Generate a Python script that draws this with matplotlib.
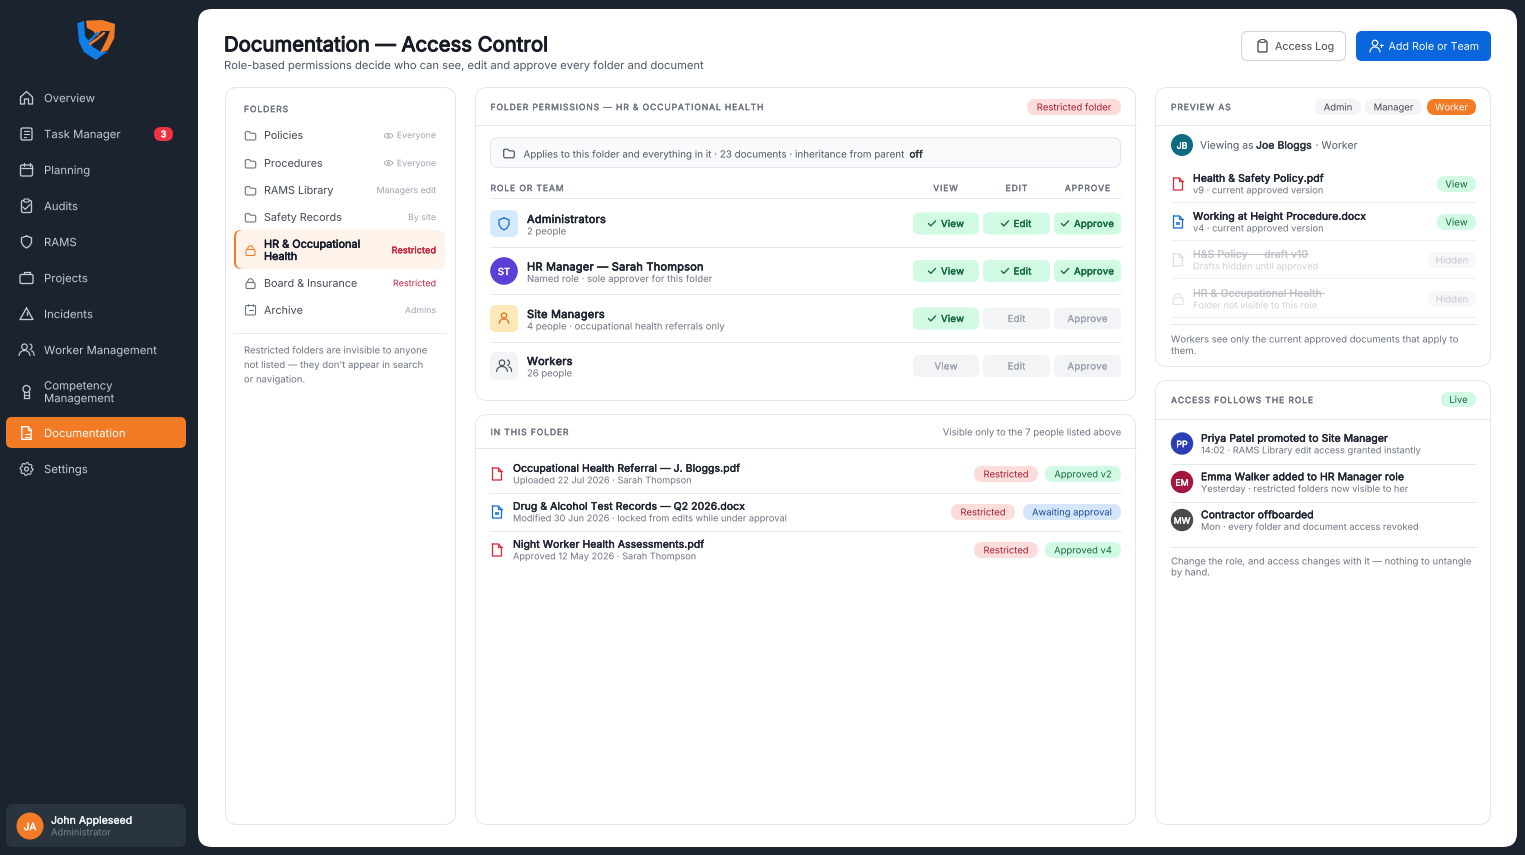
import numpy as np
import matplotlib
matplotlib.use("Agg")
import matplotlib.pyplot as plt
from matplotlib.text import Text
from matplotlib.patches import FancyBboxPatch, Circle, Polygon, Rectangle
from matplotlib.patheffects import PathEffectRenderer
import matplotlib.patheffects as pe

plt.rcParams['font.family'] = ['Inter', 'DejaVu Sans']
plt.rcParams['text.hinting'] = 'none'

# ---------- content ----------
nav_labels = ["Overview", "Task Manager", "Planning", "Audits", "RAMS", "Projects", "Incidents",
              "Worker Management", "Competency\nManagement", "Documentation", "Settings"]
folder_names = ["Policies", "Procedures", "RAMS Library", "Safety Records", "HR & Occupational\nHealth",
                "Board & Insurance", "Archive"]
folder_access = ["Everyone", "Everyone", "Managers edit", "By site", "Restricted", "Restricted", "Admins"]
role_names = ["Administrators", "HR Manager — Sarah Thompson", "Site Managers", "Workers"]
role_subs = ["2 people", "Named role · sole approver for this folder",
             "4 people · occupational health referrals only", "26 people"]
perm_labels = ["View", "Edit", "Approve"]
perm_grants = [[1, 1, 1], [1, 1, 1], [1, 0, 0], [0, 0, 0]]
doc_names = ["Occupational Health Referral — J. Bloggs.pdf", "Drug & Alcohol Test Records — Q2 2026.docx",
             "Night Worker Health Assessments.pdf"]
doc_subs = ["Uploaded 22 Jul 2026 · Sarah Thompson", "Modified 30 Jun 2026 · locked from edits while under approval",
            "Approved 12 May 2026 · Sarah Thompson"]
doc_status = ["Approved v2", "Awaiting approval", "Approved v4"]
preview_names = ["Health & Safety Policy.pdf", "Working at Height Procedure.docx", "H&S Policy — draft v10",
                 "HR & Occupational Health"]
preview_subs = ["v9 · current approved version", "v4 · current approved version", "Drafts hidden until approved",
                "Folder not visible to this role"]
preview_tags = ["View", "View", "Hidden", "Hidden"]
feed_initials = ["PP", "EM", "MW"]
feed_names = ["Priya Patel promoted to Site Manager", "Emma Walker added to HR Manager role", "Contractor offboarded"]
feed_subs = ["14:02 · RAMS Library edit access granted instantly", "Yesterday · restricted folders now visible to her",
             "Mon · every folder and document access revoked"]

# ---------- palette ----------
BG = "#1a232e"; ORANGE = "#f47b25"; INK = "#1c2230"; MID = "#4b5563"; GREY = "#6b7280"; PALE = "#9ca3af"
LINE = "#e5e7eb"; GREEN_BG = "#d1fae5"; GREEN_TX = "#11643f"; OFF_BG = "#f3f4f6"; RED_BG = "#fddcdc"; RED_TX = "#a51c30"
BLUE = "#0a66dc"; NAVTX = "#c5ccd6"

fig = plt.figure(figsize=(15.25, 8.55), dpi=100, facecolor=BG)
ax = fig.add_axes([0, 0, 1, 1])
ax.set_xlim(0, 1525); ax.set_ylim(855, 0); ax.axis("off"); ax.autoscale(False)
PX = 72 / 100


class TrackedText(Text):
    """One text object drawn with CSS-like letter spacing (in pixels)."""
    track = 0.0

    def _adv(self, renderer, s):
        fp = self.get_fontproperties()
        bar = renderer.get_text_width_height_descent("|", fp, False)[0]
        return renderer.get_text_width_height_descent(s + "|", fp, False)[0] - bar

    def get_window_extent(self, renderer=None, dpi=None):
        bb = super().get_window_extent(renderer, dpi)
        extra = self.track * (len(self.get_text()) - 1)
        d0 = {"left": 0, "center": extra / 2, "right": extra}[self.get_ha()]
        return matplotlib.transforms.Bbox.from_extents(bb.x0 - d0, bb.y0, bb.x1 + extra - d0, bb.y1)

    def draw(self, renderer):
        if not self.get_visible():
            return
        s = self.get_text()
        total = self._adv(renderer, s) + self.track * (len(s) - 1)
        x, y = self.get_transform().transform(self.get_unitless_position())
        x -= {"left": 0, "center": total / 2, "right": total}[self.get_ha()]
        H = renderer.get_canvas_width_height()[1]
        gc = renderer.new_gc()
        gc.set_foreground(self.get_color())
        gc.set_antialiased(True)
        gc.set_snap(False)
        r = PathEffectRenderer(self.get_path_effects(), renderer)
        fp = self.get_fontproperties()
        for i, ch in enumerate(s):
            if ch != " ":
                r.draw_text(gc, x + self._adv(renderer, s[:i]) + self.track * i, H - y, ch, fp, 0, False)
        gc.restore()
        self.stale = False


def box(x0, y0, x1, y1, r=8, fc="white", ec="none", lw=1.0, z=1):
    ax.add_patch(FancyBboxPatch((x0, y0), x1 - x0, y1 - y0, boxstyle=f"round,pad=0,rounding_size={r}",
                                fc=fc, ec=ec, lw=lw * PX, zorder=z))


def T(x, y, s, px=11, c=INK, ha="left", bold=0.0, z=5, ls=None, track=0.0):
    kw = dict(fontsize=px * PX, color=c, ha=ha, va="baseline", zorder=z, linespacing=ls if ls else 1.2)
    if track:
        t = TrackedText(x, y + 0.36 * px, s, **kw)
        t.track = track
        t.set_transform(ax.transData)
        ax._add_text(t)
    else:
        t = ax.text(x, y + 0.36 * px, s, **kw)
    t.set_path_effects([pe.withStroke(linewidth=bold, foreground=c)] if bold else [pe.Normal()])
    return t


def CAPS(x, y, s, ha="left"):
    return T(x, y, s, 8.6, GREY, ha, bold=.2, track=.86)


def hline(y, x0, x1, c=LINE, lw=1.0, z=2):
    ax.plot([x0, x1], [y, y], color=c, lw=lw * PX, zorder=z, solid_capstyle="butt")


def L(pts, c, lw=1.3, z=6, close=False):
    p = np.array(pts, float)
    if close:
        p = np.vstack([p, p[0]])
    ax.plot(p[:, 0], p[:, 1], color=c, lw=lw * PX, zorder=z, solid_capstyle="round", solid_joinstyle="round")


def arc(cx, cy, rx, ry, a0, a1, c, lw=1.3, z=6):
    a = np.radians(np.linspace(a0, a1, 24))
    L(np.c_[cx + rx * np.cos(a), cy + ry * np.sin(a)], c, lw, z)


def circ(cx, cy, r, c, lw=1.3, fc="none", z=6):
    ax.add_patch(Circle((cx, cy), r, fc=fc, ec=c, lw=lw * PX, zorder=z))


def ic_folder(x, y, c, s=1.0, lw=1.1):
    w, h = 5.2 * s, 4.2 * s
    L([(x - w, y - h + 1), (x - w + 1, y - h), (x - 1.2 * s, y - h), (x + .2 * s, y - h + 1.6 * s), (x + w - 1, y - h + 1.6 * s),
       (x + w, y - h + 2.6 * s), (x + w, y + h - 1), (x + w - 1, y + h), (x - w + 1, y + h), (x - w, y + h - 1)], c, lw, close=True)


def ic_lock(x, y, c, s=1.0, lw=1.1):
    box(x - 4.5 * s, y - 1 * s, x + 4.5 * s, y + 5 * s, r=1.2, fc="none", ec=c, lw=lw, z=6)
    arc(x, y - 1.5 * s, 2.8 * s, 3.3 * s, 180, 360, c, lw)


def ic_doc(x, y, c, s=1.0, lw=1.3, lines=False):
    L([(x - 4.5 * s, y - 6 * s), (x + 1.5 * s, y - 6 * s), (x + 4.5 * s, y - 2.6 * s), (x + 4.5 * s, y + 6 * s), (x - 4.5 * s, y + 6 * s)], c, lw, close=True)
    L([(x + 1.2 * s, y - 6 * s), (x + 1.2 * s, y - 2.6 * s), (x + 4.5 * s, y - 2.6 * s)], c, lw)
    if lines:
        ax.add_patch(Rectangle((x - 2 * s, y + .2 * s), 4 * s, 3 * s, fc=c, ec="none", alpha=.8, zorder=6))


def ic_eye(x, y, c):
    a = np.radians(np.linspace(0, 360, 30))
    L(np.c_[x + 4.2 * np.cos(a), y + 2.4 * np.sin(a)], c, .8)
    circ(x, y, 1.1, c, .8)


def ic_shield(x, y, c, s=1.0, lw=1.3):
    L([(x, y - 6 * s), (x + 5 * s, y - 4.2 * s), (x + 5 * s, y + .5 * s), (x + 3 * s, y + 4 * s), (x, y + 6 * s),
       (x - 3 * s, y + 4 * s), (x - 5 * s, y + .5 * s), (x - 5 * s, y - 4.2 * s)], c, lw, close=True)


def ic_user(x, y, c, lw=1.2):
    circ(x, y - 3, 2.6, c, lw)
    arc(x, y + 5, 4.8, 4.6, 180, 360, c, lw)


def ic_users(x, y, c, lw=1.2):
    circ(x - 2, y - 3.2, 2.8, c, lw)
    arc(x - 2, y + 5.5, 5.4, 5, 180, 360, c, lw)
    arc(x + 3, y - 3.2, 2.4, 2.8, -80, 80, c, lw)
    arc(x + 5, y + 5.5, 2.6, 4.5, 270, 360, c, lw)


def ic_check(x, y, c, lw=1.5):
    L([(x - 3.6, y), (x - 1.2, y + 2.4), (x + 3.6, y - 2.6)], c, lw)


# ---------- frame ----------
box(198, 9, 1517, 847, r=14, fc="white", z=0.5)

# ---------- logo ----------
ax.add_patch(Polygon([(77.3, 23.5), (84, 20.7), (85, 36), (93, 47), (101, 52), (108, 51), (96, 60), (84, 52), (79, 42)], fc="#0f7fe8", ec="none", zorder=2))
ax.add_patch(Polygon([(86, 20.7), (102, 20), (115, 24), (114.3, 38), (108, 50), (100, 52.7), (106, 41), (110, 31), (101, 31), (97, 36), (93, 31), (87, 28)], fc=ORANGE, ec="none", zorder=2))
L([(85, 45), (93, 38), (97, 33)], "#0f7fe8", 2.4)
L([(90, 44), (97, 39), (104, 33)], ORANGE, 2.4)

# ---------- sidebar ----------
nav_y = [98, 134, 170, 206, 242, 278, 314, 350, 398, 433, 469]
box(6, 417, 186, 448, r=6, fc=ORANGE)
for lab, y in zip(nav_labels, nav_y):
    T(44, y, lab, 11.35, "white" if lab == "Documentation" else NAVTX, ls=1.2)
c = NAVTX
x = 26.5
# home
y = 98; L([(x - 6, y - 1), (x, y - 6.5), (x + 6, y - 1), (x + 6, y + 6), (x + 2, y + 6), (x + 2, y + 1), (x - 2, y + 1), (x - 2, y + 6), (x - 6, y + 6)], c, close=True)
# task
y = 134; box(x - 5.5, y - 6, x + 5.5, y + 6, r=1.5, fc="none", ec=c, lw=1.3, z=6)
for dy, w in [(-3, 3), (0, 3), (3, 1.5)]:
    L([(x - 2.5, y + dy), (x - 2.5 + w * 1.6, y + dy)], c, 1.1)
# calendar
y = 170; box(x - 6, y - 5, x + 6, y + 6, r=1.5, fc="none", ec=c, lw=1.3, z=6)
hline(y - 1.5, x - 6, x + 6, c, 1.2, 6); L([(x - 3, y - 7), (x - 3, y - 4)], c); L([(x + 3, y - 7), (x + 3, y - 4)], c)
# clipboard
y = 206; box(x - 5, y - 5.5, x + 5, y + 6.5, r=1.5, fc="none", ec=c, lw=1.3, z=6)
box(x - 2.5, y - 7, x + 2.5, y - 4, r=.8, fc=BG, ec=c, lw=1.1, z=7); ic_check(x, y + 1, c, 1.2)
ic_shield(x, 242, c)
# briefcase
y = 278; box(x - 6.5, y - 3.5, x + 6.5, y + 5.5, r=1.5, fc="none", ec=c, lw=1.3, z=6)
L([(x - 3, y - 3.5), (x - 3, y - 6), (x + 3, y - 6), (x + 3, y - 3.5)], c)
# warning
y = 314; L([(x, y - 6), (x + 6.5, y + 5.5), (x - 6.5, y + 5.5)], c, close=True)
L([(x, y - 1.5), (x, y + 1.5)], c, 1.2); L([(x, y + 3.6), (x, y + 3.7)], c, 1.3)
ic_users(x, 350, c)
# medal
y = 391.5; circ(x, y - 2.5, 3.5, c); L([(x - 2.5, y + .5), (x - 2.5, y + 6.5), (x + 2.5, y + 6.5), (x + 2.5, y + .5)], c); L([(x - 2.5, y + 3.5), (x + 2.5, y + 3.5)], c, 1)
# documentation
ic_doc(x, 433, "white", 1.05, 1.4)
L([(x - 2, 434), (x + 2, 434)], "white", 1.1); L([(x - 2, 437), (x + 2, 437)], "white", 1.1)
# gear
y = 469; circ(x, y, 2, c, 1.2)
ang = np.radians(np.arange(0, 360, 15))
rad = np.where(np.arange(24) % 3 == 2, 4.9, 6.4)
L(np.c_[x + rad * np.cos(ang), y + rad * np.sin(ang)], c, 1.1, close=True)

box(154, 127, 173, 141, r=7, fc="#ef3340", z=3)
T(163.5, 134, "3", 9, "white", "center", bold=.3)

box(6, 804, 186, 847, r=7, fc="#2a343f")
ax.add_patch(Circle((30, 826), 13.5, fc=ORANGE, ec="none", zorder=3))
T(30, 826.5, "JA", 10, "white", "center", bold=.3)
T(51, 820, "John Appleseed", 10.5, "#f2f4f6", bold=.25, track=.05)
T(51, 832, "Administrator", 9.4, "#7d8793")

# ---------- header ----------
T(224, 44, "Documentation — Access Control", 20.3, "#161b26", bold=.75)
T(224, 65, "Role-based permissions decide who can see, edit and approve every folder and document", 11.2, MID)
box(1241.5, 31.5, 1345.5, 60.5, r=6, fc="white", ec="#cfd2d6", lw=1)
box(1258, 41, 1267, 52, r=1.2, fc="none", ec="#3f4650", lw=1.3, z=6); box(1260, 39.6, 1265, 42.4, r=.6, fc="white", ec="#3f4650", lw=1, z=7)
T(1275, 46, "Access Log", 10.7, "#3f4650")
box(1356, 31, 1491, 61, r=6, fc=BLUE)
circ(1375, 43, 2.8, "white", 1.2); arc(1375, 52, 5, 5, 180, 360, "white", 1.2)
L([(1379.5, 45.5), (1382.5, 45.5)], "white", 1.1); L([(1381, 44), (1381, 47)], "white", 1.1)
T(1388.5, 46, "Add Role or Team", 10.7, "white")

# ---------- folders card ----------
box(225.5, 87.5, 455.5, 824.5, r=12, ec=LINE)
CAPS(244, 109, "FOLDERS")
folder_y = [135, 163, 190, 217, 250, 283, 310]
box(234, 230, 445, 269, r=7, fc="#fef3ea", z=2)
box(234, 230, 250, 269, r=7, fc=ORANGE, z=2.1); box(236, 230, 252, 269, r=7, fc="#fef3ea", z=2.2)
for i, (n, acc, y) in enumerate(zip(folder_names, folder_access, folder_y)):
    sel = i == 4
    if sel:
        T(264, y + 6, n, 10.9, "#111827", bold=.35, ls=1.22)
    else:
        T(264, y, n, 10.75, "#3f4650")
    T(436, y, acc, 9.0 if acc == "Restricted" else 8.8, "#c81e3a" if acc == "Restricted" else PALE, "right", bold=.25 if sel else 0, track=.15 if sel else 0)
    ic = ORANGE if sel else "#6b7280"
    if i < 4:
        ic_folder(250.5, y + .8, ic)
    elif i < 6:
        ic_lock(250.5, y + .5, ic)
    else:
        box(245.5, y - 4.5, 255.5, y + 5, r=1, fc="none", ec=ic, lw=1.1, z=6)
        L([(248, y - 6), (248, y - 4)], ic, 1); L([(253, y - 6), (253, y - 4)], ic, 1); L([(248.5, y), (252.5, y)], ic, 1)
ic_eye(388.5, 135.8, PALE); ic_eye(388.5, 163, PALE)
hline(333.5, 234, 445)
for y, s in zip([350, 364.5, 379], ["Restricted folders are invisible to anyone", "not listed — they don't appear in search", "or navigation."]):
    T(244, y, s, 9.5, GREY)

# ---------- permissions card ----------
box(475.5, 87.5, 1135.5, 400.5, r=12, ec=LINE)
CAPS(490.5, 107, "FOLDER PERMISSIONS — HR & OCCUPATIONAL HEALTH")
hline(125.5, 475, 1136)
box(1027, 99, 1121, 115, r=8, fc=RED_BG); T(1074, 107, "Restricted folder", 9.5, RED_TX, "center")
box(490.5, 137.5, 1120.5, 167.5, r=8, fc="#f8fafb", ec=LINE)
ic_folder(509, 153.5, "#4b5563", 1.02, 1.2)
T(523.5, 154, "Applies to this folder and everything in it · 23 documents · inheritance from parent", 9.85, MID)
T(909.5, 154, "off", 9.85, "#2f3742", bold=.3)
CAPS(490.5, 188, "ROLE OR TEAM")
for xc, s in zip([945.5, 1016.5, 1087.5], ["VIEW", "EDIT", "APPROVE"]):
    CAPS(xc, 188, s, "center")
hline(198.5, 490, 1121)
for y in [247.5, 294.5, 342.5]:
    hline(y, 490, 1121)
row_y = [223.5, 271, 318.5, 366]
name_y = [219, 266.5, 314, 361]
btn_x = [(913, 979), (983, 1050), (1054, 1121)]
label_shift = {"View": 6.5, "Edit": 6, "Approve": 6.5}
check_shift = {"View": -14, "Edit": -11.5, "Approve": -22.5}
for i, y in enumerate(row_y):
    T(527, name_y[i], role_names[i], 11, INK, bold=.4, track=.25)
    T(527, name_y[i] + 12, role_subs[i], 9.5, GREY)
    for j, lab in enumerate(perm_labels):
        x0, x1 = btn_x[j]
        on = perm_grants[i][j]
        box(x0, y - 11, x1, y + 11, r=6, fc=GREEN_BG if on else OFF_BG)
        xc = (x0 + x1) / 2
        if on:
            T(xc + label_shift[lab], y, lab, 9.6, GREEN_TX, "center", bold=.25, track=.2)
            ic_check(xc + check_shift[lab], y, GREEN_TX, 1.3)
        else:
            T(xc, y, lab, 9.6, PALE, "center", bold=.15, track=.2)
box(490, 210, 518, 237, r=6, fc="#d6e8fb", z=2); ic_shield(504, 224, "#1a6fd0", 1.0, 1.3)
ax.add_patch(Circle((504, 271), 13.8, fc="#5b3fd6", ec="none", zorder=3)); T(504, 271.5, "ST", 9.6, "white", "center", bold=.3)
box(490, 305, 518, 332, r=6, fc="#fde9b8", z=2); ic_user(504, 318.5, "#d9691e")
box(490, 352, 518, 380, r=6, fc=OFF_BG, z=2); ic_users(504, 366, "#4b5563")

# ---------- documents card ----------
box(475.5, 414.5, 1135.5, 824.5, r=12, ec=LINE)
CAPS(490.5, 432, "IN THIS FOLDER")
T(1121, 432, "Visible only to the 7 people listed above", 9.5, GREY, "right")
hline(447.5, 475, 1136)
hline(492.5, 490, 1121); hline(530.5, 490, 1121)
doc_y = [474, 512, 550]
for i, y in enumerate(doc_y):
    T(513, y - 6, doc_names[i], 10.4, INK, bold=.3, track=.1)
    T(513, y + 6, doc_subs[i], 9.2, GREY)
    pdf = doc_names[i].endswith(".pdf")
    ic_doc(497, y, "#d92d3f" if pdf else "#1a6fd0", 1.0, 1.3, lines=not pdf)
    st = doc_status[i]
    approved = st.startswith("Approved")
    x0 = 1045 if approved else 1023
    box(x0, y - 8, 1121, y + 8, r=8, fc=GREEN_BG if approved else "#d5e6fb")
    T((x0 + 1121) / 2, y, st, 9.4, GREEN_TX if approved else "#17479e", "center")
    rx = 974 if approved else 951
    box(rx, y - 8, rx + 64, y + 8, r=8, fc=RED_BG)
    T(rx + 32, y, "Restricted", 9.4, RED_TX, "center")

# ---------- preview card ----------
box(1155.5, 87.5, 1490.5, 366.5, r=12, ec=LINE)
CAPS(1171, 107, "PREVIEW AS")
hline(125.5, 1155, 1491)
for (a, b), s, f, col in zip([(1315, 1361), (1365, 1422), (1427, 1476)], ["Admin", "Manager", "Worker"],
                             [OFF_BG, OFF_BG, ORANGE], ["#3f4650", "#3f4650", "white"]):
    box(a, 99, b, 115, r=8, fc=f); T((a + b) / 2, 107, s, 9.5, col, "center")
ax.add_patch(Circle((1182, 145), 11, fc="#0e6b82", ec="none", zorder=3)); T(1182, 145.5, "JB", 8.8, "white", "center", bold=.3)
T(1200, 145, "Viewing as", 10.4, MID); T(1256, 145, "Joe Bloggs", 10.4, "#2f3742", bold=.3, track=.08); T(1315.5, 145, "· Worker", 10.4, MID)
pv_y = [184, 222, 260, 299]
for i, y in enumerate(pv_y):
    live = i < 2
    T(1193, y - 6, preview_names[i], 10.4, INK if live else "#c3c7cd", bold=.3 if live else .12, track=.1)
    T(1193, y + 6, preview_subs[i], 9.3, GREY if live else "#cdd1d6")
    if not live:
        hline(y - 6, 1193, 1193 + {2: 115, 3: 131}[i], "#b9bdc3", 1, 6)
    if i == 0:
        ic_doc(1178, y, "#d92d3f")
    elif i == 1:
        ic_doc(1178, y, "#1a6fd0", lines=True)
    elif i == 2:
        ic_doc(1178, y, "#dddfe3")
    else:
        ic_lock(1178, y, "#dddfe3", 1.1)
    x0 = 1437 if live else 1428
    box(x0, y - 8, 1476, y + 8, r=8, fc=GREEN_BG if live else "#f7f8f9")
    T((x0 + 1476) / 2, y, preview_tags[i], 9.6, GREEN_TX if live else "#c3c7cd", "center")
for y in [202.5, 240.5, 278.5, 317.5]:
    hline(y, 1171, 1476, "#eceef1")
hline(324.5, 1171, 1476)
T(1171, 339, "Workers see only the current approved documents that apply to", 9.5, GREY)
T(1171, 350.5, "them.", 9.5, GREY)

# ---------- feed card ----------
box(1155.5, 380.5, 1490.5, 824.5, r=12, ec=LINE)
CAPS(1171, 400, "ACCESS FOLLOWS THE ROLE")
hline(418.5, 1155, 1491)
box(1441, 392, 1476, 407, r=7.5, fc=GREEN_BG); T(1458.5, 399.5, "Live", 9.4, GREEN_TX, "center")
feed_cols = ["#2a3fb5", "#a3163d", "#4a4a48"]
for i, y in enumerate([443.5, 482, 520]):
    ax.add_patch(Circle((1182, y), 11.2, fc=feed_cols[i], ec="none", zorder=3))
    T(1182, y + .5, feed_initials[i], 8.8, "white", "center", bold=.3)
    T(1201, y - 5.5, feed_names[i], 10.4, INK, bold=.3, track=.1)
    T(1201, y + 6.5, feed_subs[i], 9.25, GREY)
hline(463.5, 1171, 1476); hline(501.5, 1171, 1476); hline(546.5, 1171, 1476)
T(1171, 561, "Change the role, and access changes with it — nothing to untangle", 9.5, GREY)
T(1171, 572, "by hand.", 9.5, GREY)

fig.savefig("out.png", dpi=100, facecolor=BG)
